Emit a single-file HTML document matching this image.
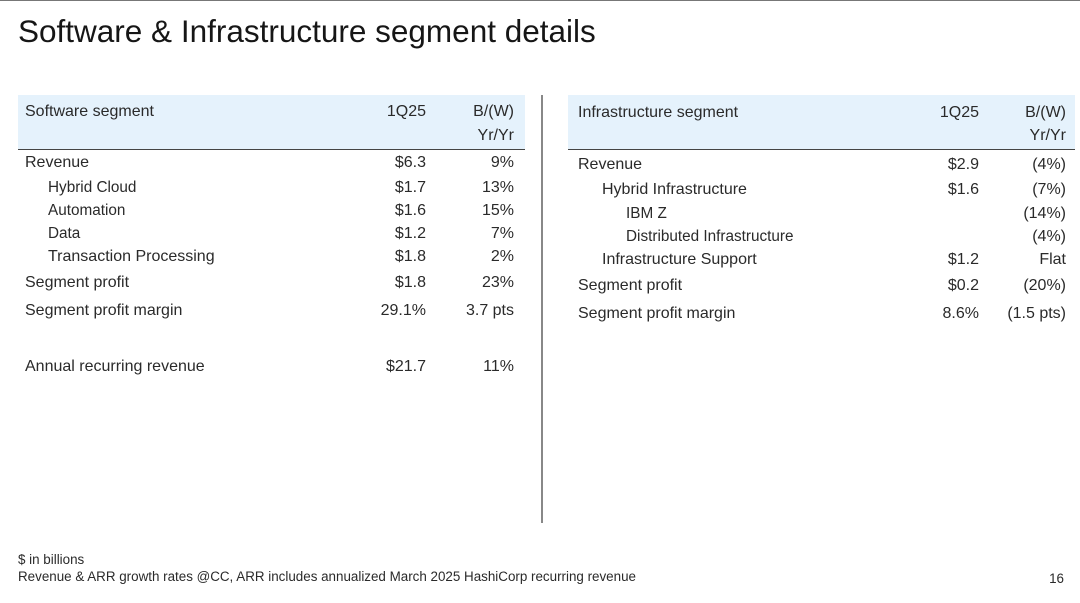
<!DOCTYPE html>
<html><head><meta charset="utf-8"><style>
body{margin:0;width:1080px;height:603px;background:#fff;position:relative;overflow:hidden;font-family:"Liberation Sans",sans-serif;color:#2a2a2a}
.t{position:absolute;white-space:nowrap;line-height:20px}
.r{text-align:right}
.m{font-size:16px}.s{font-size:15.3px}
</style></head><body>
<div style="position:absolute;left:0;top:0;width:1080px;height:1px;background:#777"></div>
<div class="t" style="left:18px;top:13px;font-size:31.5px;line-height:36px;color:#161616">Software &amp; Infrastructure segment details</div>

<div style="position:absolute;left:18px;top:95px;width:507px;height:54px;background:#e5f2fc;border-bottom:1px solid #444"></div>
<div style="position:absolute;left:568px;top:95px;width:507px;height:54px;background:#e5f2fc;border-bottom:1px solid #444"></div>
<div style="position:absolute;left:541px;top:95px;width:2px;height:428px;background:#888"></div>

<!-- left table -->
<div class="t m" style="left:25px;top:102px">Software segment</div>
<div class="t m r" style="right:654px;top:102px">1Q25</div>
<div class="t m r" style="right:566px;top:102px">B/(W)</div>
<div class="t m r" style="right:566px;top:126px">Yr/Yr</div>

<div class="t m" style="left:25px;top:153px">Revenue</div><div class="t m r" style="right:654px;top:153px">$6.3</div><div class="t m r" style="right:566px;top:153px">9%</div>
<div class="t s" style="left:48px;top:178px">Hybrid Cloud</div><div class="t m r" style="right:654px;top:178px">$1.7</div><div class="t m r" style="right:566px;top:178px">13%</div>
<div class="t s" style="left:48px;top:201px">Automation</div><div class="t m r" style="right:654px;top:201px">$1.6</div><div class="t m r" style="right:566px;top:201px">15%</div>
<div class="t s" style="left:48px;top:224px">Data</div><div class="t m r" style="right:654px;top:224px">$1.2</div><div class="t m r" style="right:566px;top:224px">7%</div>
<div class="t m" style="left:48px;top:247px">Transaction Processing</div><div class="t m r" style="right:654px;top:247px">$1.8</div><div class="t m r" style="right:566px;top:247px">2%</div>
<div class="t m" style="left:25px;top:273px">Segment profit</div><div class="t m r" style="right:654px;top:273px">$1.8</div><div class="t m r" style="right:566px;top:273px">23%</div>
<div class="t m" style="left:25px;top:301px">Segment profit margin</div><div class="t m r" style="right:654px;top:301px">29.1%</div><div class="t m r" style="right:566px;top:301px">3.7 pts</div>
<div class="t m" style="left:25px;top:357px">Annual recurring revenue</div><div class="t m r" style="right:654px;top:357px">$21.7</div><div class="t m r" style="right:566px;top:357px">11%</div>

<!-- right table -->
<div class="t m" style="left:578px;top:103px">Infrastructure segment</div>
<div class="t m r" style="right:101px;top:103px">1Q25</div>
<div class="t m r" style="right:14px;top:103px">B/(W)</div>
<div class="t m r" style="right:14px;top:126px">Yr/Yr</div>

<div class="t m" style="left:578px;top:155px">Revenue</div><div class="t m r" style="right:101px;top:155px">$2.9</div><div class="t m r" style="right:14px;top:155px">(4%)</div>
<div class="t m" style="left:602px;top:180px">Hybrid Infrastructure</div><div class="t m r" style="right:101px;top:180px">$1.6</div><div class="t m r" style="right:14px;top:180px">(7%)</div>
<div class="t s" style="left:626px;top:204px">IBM Z</div><div class="t m r" style="right:14px;top:204px">(14%)</div>
<div class="t s" style="left:626px;top:227px">Distributed Infrastructure</div><div class="t m r" style="right:14px;top:227px">(4%)</div>
<div class="t m" style="left:602px;top:250px">Infrastructure Support</div><div class="t m r" style="right:101px;top:250px">$1.2</div><div class="t m r" style="right:14px;top:250px">Flat</div>
<div class="t m" style="left:578px;top:276px">Segment profit</div><div class="t m r" style="right:101px;top:276px">$0.2</div><div class="t m r" style="right:14px;top:276px">(20%)</div>
<div class="t m" style="left:578px;top:304px">Segment profit margin</div><div class="t m r" style="right:101px;top:304px">8.6%</div><div class="t m r" style="right:14px;top:304px">(1.5 pts)</div>

<div class="t" style="left:18px;top:551px;font-size:13.4px;line-height:18px">$ in billions</div>
<div class="t" style="left:18px;top:568px;font-size:13.4px;line-height:18px">Revenue &amp; ARR growth rates @CC, ARR includes annualized March 2025 HashiCorp recurring revenue</div>
<div class="t r" style="right:16px;top:570px;font-size:13.4px;line-height:18px">16</div>
</body></html>
